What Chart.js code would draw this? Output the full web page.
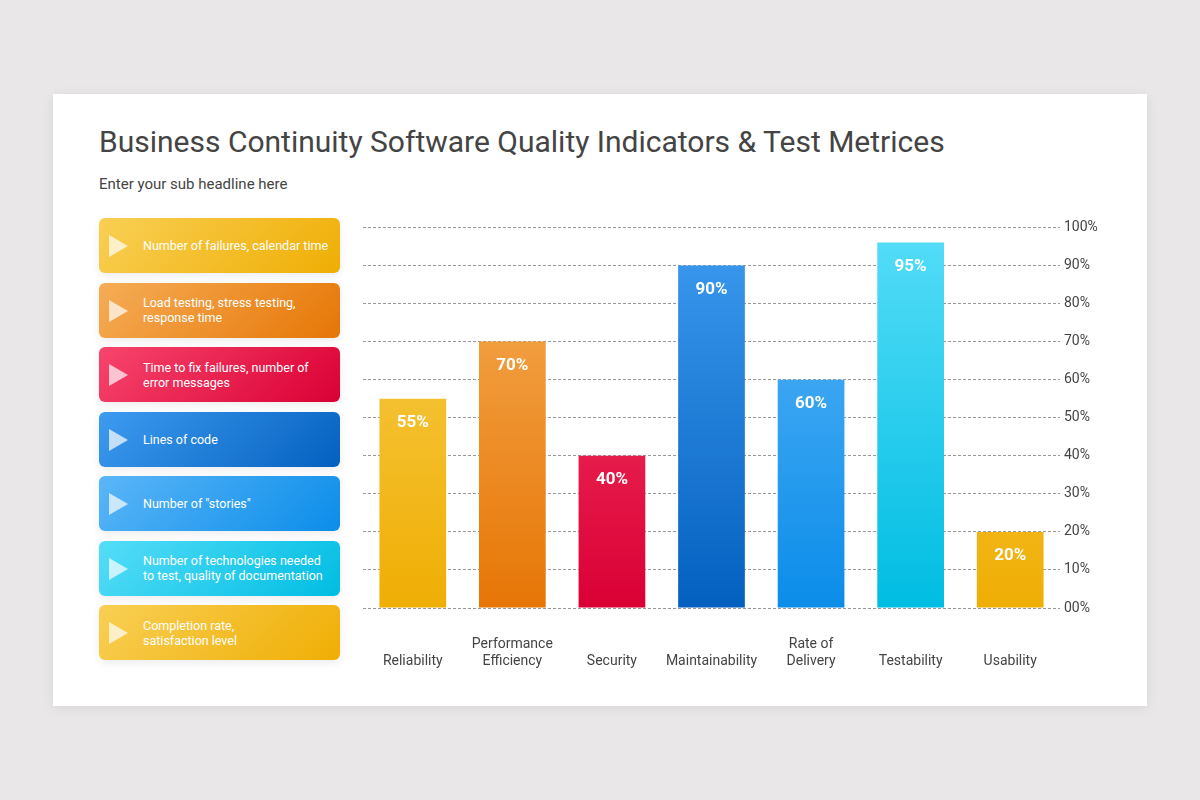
<!DOCTYPE html>
<html><head><meta charset="utf-8">
<script src="https://cdn.jsdelivr.net/npm/chart.js@4"></script>
<style>
body{margin:0;width:1200px;height:800px;background:#e9e7e8;font-family:Roboto,sans-serif;position:relative;overflow:hidden}
.card{position:absolute;left:53px;top:94px;width:1094px;height:612px;background:#fff;box-shadow:0 2px 12px rgba(0,0,0,0.08)}
h1{position:absolute;left:99px;top:124px;margin:0;font-weight:400;font-size:30px;color:#444}
.sub{position:absolute;left:99px;top:175px;font-size:15px;color:#444}
.box{position:absolute;left:99px;width:241px;height:55px;border-radius:6px;color:#fff;font-size:12.5px;line-height:15px;display:flex;align-items:center;padding-left:44px;box-sizing:border-box;box-shadow:0 3px 8px rgba(0,0,0,0.08)}
.box:before{content:"";position:absolute;left:10px;top:17px;border-left:19px solid rgba(255,255,255,0.7);border-top:11px solid transparent;border-bottom:11px solid transparent}
canvas{position:absolute;left:355px;top:215px}
</style></head><body>
<div class="card"></div>
<h1>Business Continuity Software Quality Indicators &amp; Test Metrices</h1>
<div class="sub">Enter your sub headline here</div>
<div id="boxes"></div>
<canvas id="c" width="760" height="455" style="width:760px;height:455px"></canvas>
<script>
const categories=[['','Reliability'],['Performance','Efficiency'],['','Security'],['','Maintainability'],['Rate of','Delivery'],['','Testability'],['','Usability']];
const values=[55,70,40,90,60,96,20];
const valueLabels=['55%','70%','40%','90%','60%','95%','20%'];
const barColors=[['#f9cf54','#efae04'],['#f6ad56','#e67606'],['#f7456c','#da0034'],['#3d9bf0','#0460bf'],['#5bb6f8','#0b8de9'],['#55ddf8','#00bde2'],['#f9cf54','#efae04']];
const legendTexts=['Number of failures, calendar time','Load testing, stress testing,<br>response time','Time to fix failures, number of<br>error messages','Lines of code','Number of "stories"','Number of technologies needed<br>to test, quality of documentation','Completion rate,<br>satisfaction level'];
const legendColors=[['#f9cf54','#efae04'],['#f6ad56','#e67606'],['#f7456c','#da0034'],['#3d9bf0','#0460bf'],['#5bb6f8','#0b8de9'],['#55ddf8','#00bde2'],['#f9cf54','#efae04']];
const bx=document.getElementById('boxes');
legendTexts.forEach((t,i)=>{const d=document.createElement('div');d.className='box';d.style.top=(218+i*64.5)+'px';d.style.background=`linear-gradient(135deg,${legendColors[i][0]},${legendColors[i][1]})`;d.innerHTML=t;bx.appendChild(d);});
const labelPlugin={id:'vl',afterDatasetsDraw(ch){const ctx=ch.ctx;const m=ch.getDatasetMeta(0);ctx.save();ctx.fillStyle='#fff';ctx.font='bold 17px Roboto';ctx.textAlign='center';ctx.textBaseline='middle';m.data.forEach((b,i)=>ctx.fillText(valueLabels[i],b.x,b.y+24));ctx.restore();}};
new Chart(document.getElementById('c'),{type:'bar',
data:{labels:categories,datasets:[{data:values,barPercentage:0.67,categoryPercentage:1,
backgroundColor:(c)=>{const a=c.chart.chartArea;if(!a)return barColors[c.dataIndex][1];const g=c.chart.ctx.createLinearGradient(0,a.top,0,a.bottom);g.addColorStop(0,barColors[c.dataIndex][0]);g.addColorStop(1,barColors[c.dataIndex][1]);return g;}}]},
options:{responsive:false,animation:false,layout:{padding:{top:12,left:8}},plugins:{legend:{display:false},tooltip:{enabled:false}},
scales:{x:{grid:{display:false},border:{display:false},ticks:{color:'#444',font:{size:14,family:'Roboto'},padding:20,maxRotation:0},afterFit(s){s.height=62;}},
y:{position:'right',min:0,max:100,ticks:{stepSize:10,color:'#444',font:{size:14,family:'Roboto'},padding:4,callback:v=>(v===0?'00':v)+'%'},
grid:{color:'#999',drawTicks:false,lineWidth:1},border:{display:false,dash:[3,2]},afterFit(s){s.width=55;}}}},
plugins:[labelPlugin]});
</script></body></html>
